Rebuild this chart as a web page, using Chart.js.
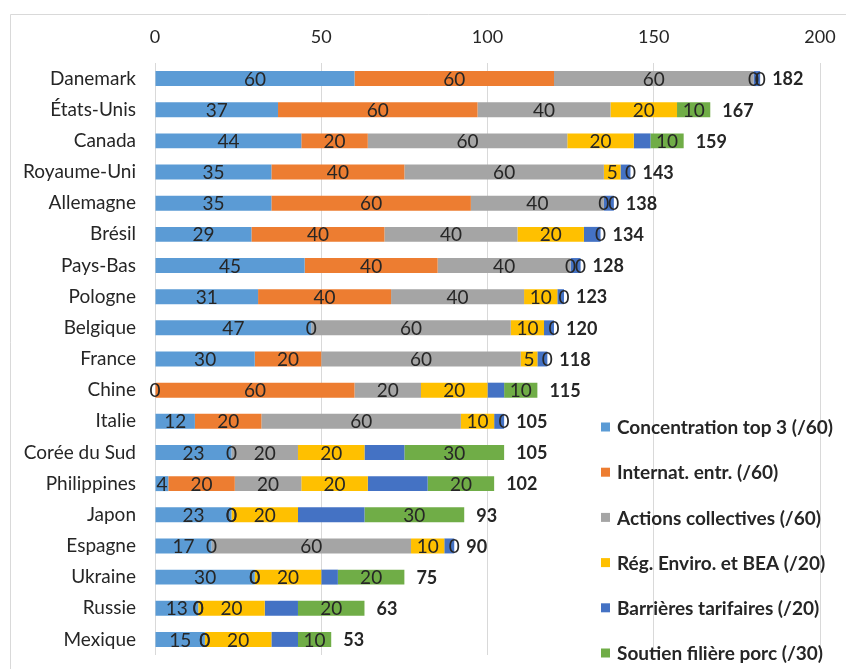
<!DOCTYPE html>
<html>
<head>
<meta charset="utf-8">
<script src="https://cdn.jsdelivr.net/npm/chart.js@4.4.1/dist/chart.umd.min.js"></script>
<style>
  html, body { margin: 0; padding: 0; background: #ffffff; }
  #wrap { position: relative; width: 846px; height: 669px; }
  canvas { display: block; }
</style>
</head>
<body>
<div id="wrap"><canvas id="c" width="846" height="669"></canvas></div>
<script>
// Pays classés par score total
const pays = ['Danemark', 'États-Unis', 'Canada', 'Royaume-Uni', 'Allemagne', 'Brésil', 'Pays-Bas',
  'Pologne', 'Belgique', 'France', 'Chine', 'Italie', 'Corée du Sud', 'Philippines', 'Japon',
  'Espagne', 'Ukraine', 'Russie', 'Mexique'];

// Composantes du score
const concentration = [60, 37, 44, 35, 35, 29, 45, 31, 47, 30, 0, 12, 23, 4, 23, 17, 30, 13, 15];
const internat      = [60, 60, 20, 40, 60, 40, 40, 40, 0, 20, 60, 20, 0, 20, 0, 0, 0, 0, 0];
const actions       = [60, 40, 60, 60, 40, 40, 40, 40, 60, 60, 20, 60, 20, 20, 0, 60, 0, 0, 0];
const regEnviro     = [0, 20, 20, 5, 0, 20, 0, 10, 10, 5, 20, 10, 20, 20, 20, 10, 20, 20, 20];
const barrieres     = [2, 0, 5, 3, 3, 5, 3, 2, 3, 3, 5, 3, 12, 18, 20, 3, 5, 10, 8];
const soutien       = [0, 10, 10, 0, 0, 0, 0, 0, 0, 0, 10, 0, 30, 20, 30, 0, 20, 20, 10];

const series = [
  { label: 'Concentration top 3 (/60)', data: concentration, color: '#5B9BD5', showValues: true },
  { label: 'Internat. entr. (/60)', data: internat, color: '#ED7D31', showValues: true },
  { label: 'Actions collectives (/60)', data: actions, color: '#A5A5A5', showValues: true },
  { label: 'Rég. Enviro. et BEA (/20)', data: regEnviro, color: '#FFC000', showValues: true },
  { label: 'Barrières tarifaires (/20)', data: barrieres, color: '#4472C4', showValues: false },
  { label: 'Soutien filière porc (/30)', data: soutien, color: '#70AD47', showValues: true }
];

const xTicks = [0, 50, 100, 150, 200];

const totals = pays.map((_, i) => series.reduce((s, d) => s + d.data[i], 0));

const FONT = 'Lato, "Open Sans", "DejaVu Sans", sans-serif';
const TEXT = '#262626';

// Outer frame of the chart
const frame = {
  id: 'frame',
  beforeDraw(chart) {
    const ctx = chart.ctx;
    ctx.save();
    ctx.fillStyle = '#ffffff';
    ctx.fillRect(0, 0, chart.width, chart.height);
    ctx.strokeStyle = '#d9d9d9';
    ctx.lineWidth = 1;
    ctx.beginPath();
    ctx.moveTo(10.5, chart.height + 2);
    ctx.lineTo(10.5, 14.5);
    ctx.lineTo(chart.width + 2, 14.5);
    ctx.stroke();
    ctx.restore();
  }
};

// Segment values and totals
const valueLabels = {
  id: 'valueLabels',
  afterDatasetsDraw(chart) {
    const ctx = chart.ctx;
    ctx.save();
    ctx.fillStyle = TEXT;
    ctx.textBaseline = 'middle';
    ctx.textAlign = 'center';
    ctx.font = '19px ' + FONT;
    chart.data.datasets.forEach((ds, i) => {
      if (!ds.showValues) return;
      const meta = chart.getDatasetMeta(i);
      meta.data.forEach((bar, j) => {
        const p = bar.getProps(['x', 'y', 'base'], true);
        ctx.fillText(String(ds.data[j]), (p.x + p.base) / 2, p.y + 1);
      });
    });
    const xs = chart.scales.x;
    const ys = chart.scales.y;
    ctx.textAlign = 'left';
    ctx.font = 'bold 18px ' + FONT;
    totals.forEach((t, j) => {
      ctx.fillText(String(t), xs.getPixelForValue(t) + 12, ys.getPixelForValue(j) + 1);
    });
    ctx.restore();
  }
};

// Legend inside the plot, lower right
const sideLegend = {
  id: 'sideLegend',
  afterDraw(chart) {
    const ctx = chart.ctx;
    ctx.save();
    ctx.textBaseline = 'middle';
    ctx.textAlign = 'left';
    ctx.font = 'bold 19px ' + FONT;
    chart.data.datasets.forEach((ds, i) => {
      const y = 427 + i * 45.2;
      ctx.fillStyle = ds.backgroundColor;
      ctx.fillRect(601, y - 4.5, 9, 9);
      ctx.fillStyle = TEXT;
      ctx.fillText(ds.label, 617, y + 1);
    });
    ctx.restore();
  }
};

new Chart(document.getElementById('c'), {
  type: 'bar',
  data: {
    labels: pays,
    datasets: series.map(s => ({
      label: s.label,
      data: s.data,
      backgroundColor: s.color,
      borderWidth: 0,
      showValues: s.showValues,
      barPercentage: 0.48,
      categoryPercentage: 1
    }))
  },
  options: {
    indexAxis: 'y',
    responsive: false,
    animation: false,
    devicePixelRatio: 1,
    layout: { padding: { left: 0, right: 26, top: 0, bottom: 14 } },
    plugins: {
      legend: { display: false },
      tooltip: { enabled: false }
    },
    scales: {
      x: {
        position: 'top',
        stacked: true,
        min: 0,
        max: 200,
        afterBuildTicks(scale) { scale.ticks = xTicks.map(v => ({ value: v })); },
        afterFit(scale) {
          scale.height = 63;
          scale.paddingLeft = 0;
          scale.paddingRight = 0;
        },
        ticks: { font: { family: FONT, size: 18 }, color: TEXT, padding: 15 },
        grid: { color: '#d9d9d9', drawTicks: false },
        border: { display: false }
      },
      y: {
        stacked: true,
        afterFit(scale) {
          scale.width = 155;
          scale.paddingTop = 0;
          scale.paddingBottom = 0;
        },
        ticks: { font: { family: FONT, size: 19 }, color: TEXT, padding: 19, autoSkip: false },
        grid: { display: false, drawTicks: false },
        border: { display: false }
      }
    }
  },
  plugins: [frame, valueLabels, sideLegend]
});
</script>
</body>
</html>
